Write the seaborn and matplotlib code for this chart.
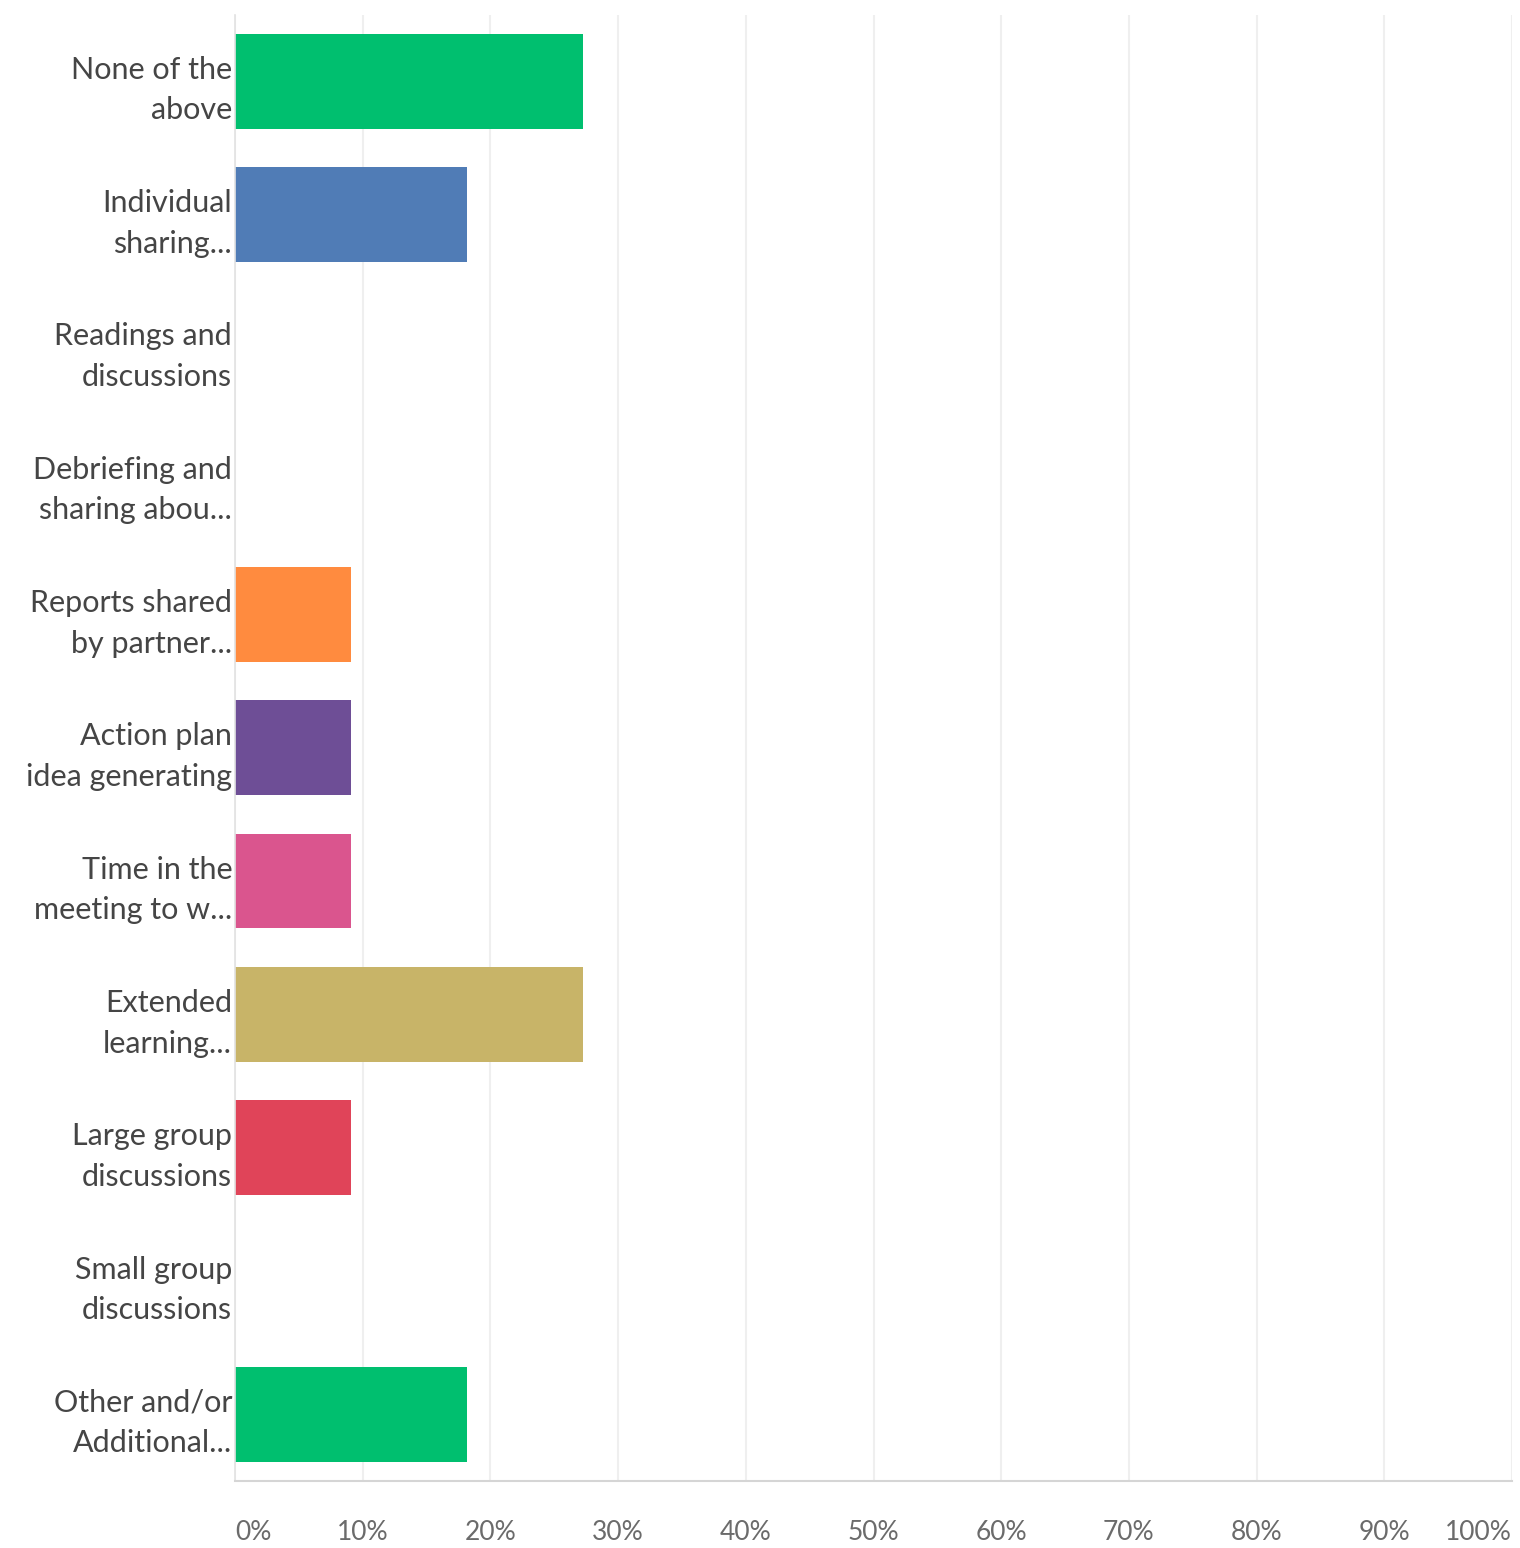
import matplotlib
matplotlib.use("Agg")
import matplotlib.pyplot as plt
import seaborn as sns
import pandas as pd

categories = [
    "None of the\nabove",
    "Individual\nsharing...",
    "Readings and\ndiscussions",
    "Debriefing and\nsharing abou...",
    "Reports shared\nby partner...",
    "Action plan\nidea generating",
    "Time in the\nmeeting to w...",
    "Extended\nlearning...",
    "Large group\ndiscussions",
    "Small group\ndiscussions",
    "Other and/or\nAdditional...",
]
values = [27.27, 18.18, 0.0, 0.0, 9.09, 9.09, 9.09, 27.27, 9.09, 0.0, 18.18]
colors = ["#00BF6F", "#507CB6", "#F9BE00", "#6BC8CD", "#FF8B3F",
          "#6E4E96", "#DA558E", "#C8B468", "#E04459", "#A8A8A8", "#00BF6F"]
tick_values = [0, 10, 20, 30, 40, 50, 60, 70, 80, 90, 100]
tick_labels = ["0%", "10%", "20%", "30%", "40%", "50%", "60%", "70%", "80%", "90%", "100%"]

df = pd.DataFrame({"category": categories, "value": values})

sns.set_theme(style="white")
plt.rcParams["font.family"] = ["Lato", "DejaVu Sans"]

fig = plt.figure(figsize=(15.2, 15.48), dpi=100)
ax = fig.add_axes([235 / 1520, 1 - 1481 / 1548, (1512 - 235) / 1520, (1481 - 14.6) / 1548])

sns.barplot(data=df, x="value", y="category", hue="category", palette=colors,
            legend=False, width=0.71, orient="h", ax=ax, saturation=1, edgecolor="none")

ax.set_xlim(0, 100)
ax.set_ylim(len(categories) - 0.5, -0.5)
ax.set_xticks(tick_values)
ax.set_xticklabels(tick_labels, fontsize=19, color="#6b6b6b")
for i, t in enumerate(ax.get_xticklabels()):
    if i == 0:
        t.set_ha("left")
    elif i == len(tick_labels) - 1:
        t.set_ha("right")
ax.tick_params(axis="x", length=0, pad=28)
ax.tick_params(axis="y", length=0, pad=2)
for t in ax.get_yticklabels():
    t.set_fontsize(22)
    t.set_color("#454545")
    t.set_linespacing(1.55)
    t.set_ha("right")

ax.set_xlabel("")
ax.set_ylabel("")
ax.grid(axis="x", color="#efefef", linewidth=1.5)
ax.set_axisbelow(True)
for s in ["top", "right"]:
    ax.spines[s].set_visible(False)
ax.spines["bottom"].set_color("#d5d5d5")
ax.spines["bottom"].set_linewidth(1.5)
ax.spines["left"].set_color("#e2e2e2")
ax.spines["left"].set_linewidth(1.2)

fig.savefig("out.png", dpi=100, facecolor="white")
